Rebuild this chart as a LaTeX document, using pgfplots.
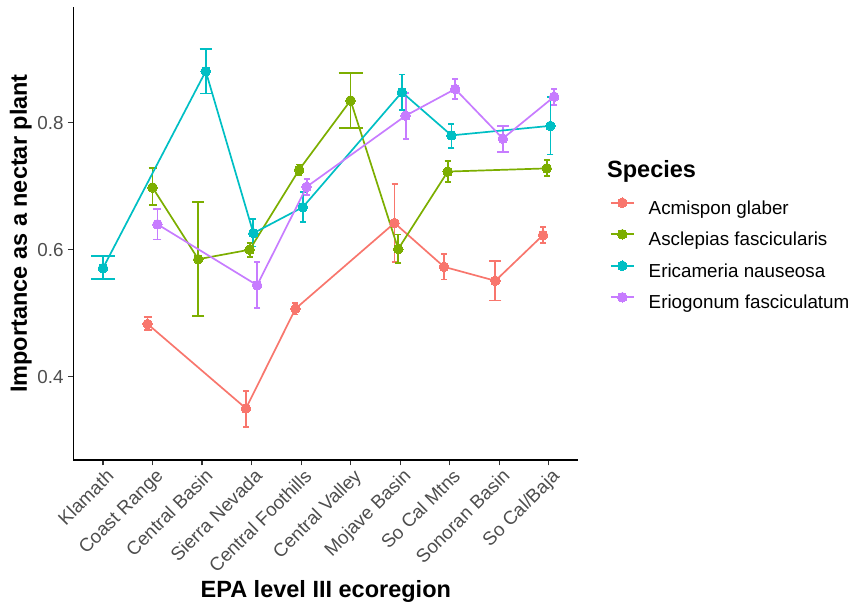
\documentclass[border=0pt]{standalone}
\usepackage{pgfplots}
\pgfplotsset{compat=1.18}
\usepackage{pgfplotstable}
\usepackage{fontspec}
\setmainfont{Liberation Sans}

\definecolor{cA}{HTML}{F8766D}
\definecolor{cB}{HTML}{7CAE00}
\definecolor{cC}{HTML}{00BFC4}
\definecolor{cD}{HTML}{C77CFF}
\definecolor{ticktext}{HTML}{4D4D4D}
\definecolor{tickline}{HTML}{333333}

% x = ecoregion index (1 = Klamath ... 10 = So Cal/Baja) plus dodge offset
% n = number of species sampled in that ecoregion (sets the cap width)
\pgfplotstableread{
x       y     lo    hi    n
1.9     0.483 0.473 0.494 3
3.8875  0.350 0.321 0.378 4
4.8875  0.507 0.498 0.516 4
6.8875  0.642 0.581 0.704 4
7.8875  0.573 0.553 0.593 4
8.925   0.551 0.520 0.582 2
9.8875  0.623 0.610 0.636 4
}\acmispon

\pgfplotstableread{
x       y     lo    hi    n
2.0     0.698 0.670 0.728 3
2.925   0.585 0.496 0.675 2
3.9625  0.600 0.588 0.611 4
4.9625  0.726 0.718 0.734 4
6.0     0.835 0.792 0.878 1
6.9625  0.601 0.579 0.624 4
7.9625  0.723 0.707 0.740 4
9.9625  0.728 0.716 0.741 4
}\asclepias

\pgfplotstableread{
x       y     lo    hi    n
1.0     0.571 0.554 0.590 1
3.075   0.881 0.846 0.916 2
4.0375  0.626 0.605 0.648 4
5.0375  0.667 0.643 0.691 4
7.0375  0.848 0.820 0.876 4
8.0375  0.780 0.760 0.798 4
10.0375 0.795 0.750 0.840 4
}\ericameria

\pgfplotstableread{
x       y     lo    hi    n
2.1     0.640 0.616 0.664 3
4.1125  0.544 0.508 0.581 4
5.1125  0.699 0.686 0.711 4
7.1125  0.811 0.774 0.847 4
8.1125  0.853 0.837 0.869 4
9.075   0.775 0.754 0.795 2
10.1125 0.841 0.828 0.853 4
}\eriogonum

% error bars of one species for the ecoregions holding #3 species; #4 = cap half-width
\newcommand{\errbars}[4]{%
  \addplot[forget plot, draw=none, mark=none,
    x filter/.expression={\thisrow{n}==#3 ? x : nan},
    error bars/.cd, y dir=both, y explicit, error mark=|,
      error bar style={draw=#2, line width=1.8bp, solid},
      error mark options={draw=#2, line width=1.8bp, mark size=#4}]
    table[x=x, y=y,
      y error plus expr=\thisrow{hi}-\thisrow{y},
      y error minus expr=\thisrow{y}-\thisrow{lo}] {#1};
}

\newcommand{\series}[2]{%
  \addplot[#2, line width=1.7bp, mark=*, mark size=4.8bp,
    mark options={draw=#2, fill=#2, line width=0pt, solid}]
    table[x=x, y=y] {#1};
}

\begin{document}
\begin{tikzpicture}[x=1bp, y=1bp]
\useasboundingbox (0,0) rectangle (851,610);
\begin{axis}[
  at={(73.3bp,150bp)}, anchor=south west,
  scale only axis, width=505bp, height=453bp,
  xmin=0.4, xmax=10.6, ymin=0.2688, ymax=0.9822,
  axis lines=left,
  axis line style={-, line width=1.1bp, black},
  tick align=outside, major tick length=5.5bp,
  every tick/.style={tickline, line width=1.1bp},
  minor tick num=0,
  xtick={1,...,10},
  xticklabels={Klamath, Coast Range, Central Basin, Sierra Nevada,
    Central Foothills, Central Valley, Mojave Basin, So Cal Mtns,
    Sonoran Basin, So Cal/Baja},
  ytick={0.4,0.6,0.8},
  yticklabels={0.4,0.6,0.8},
  ticklabel style={font=\fontsize{18.8bp}{22bp}\selectfont, text=ticktext},
  xticklabel style={rotate=45, anchor=north east, inner sep=0pt, yshift=-3bp},
  yticklabel style={anchor=east, inner sep=0pt, xshift=-4bp},
  xlabel={EPA level III ecoregion},
  ylabel={Importance as a nectar plant},
  label style={font=\bfseries\fontsize{23.5bp}{27bp}\selectfont, inner sep=0pt},
  xlabel style={at={(axis description cs:0.5,-0.3046)}, anchor=base},
  ylabel style={at={(axis description cs:-0.0917,0.5)}, anchor=base, rotate=0},
  legend style={at={(1.0628,0.5784)}, anchor=north west, draw=none, fill=none,
    inner sep=0pt, outer sep=0pt, row sep=11.2bp, column sep=14bp,
    nodes={inner sep=0pt, text height=14bp, text depth=4bp,
      font=\fontsize{18.8bp}{22bp}\selectfont}},
  legend cell align=left,
  legend image code/.code={%
    \draw[mark repeat=2, mark phase=2]
      plot coordinates {(0bp,6.5bp) (11.5bp,6.5bp) (23bp,6.5bp)};},
]
\errbars{\acmispon}{cA}{2}{6bp}
\errbars{\acmispon}{cA}{3}{4bp}
\errbars{\acmispon}{cA}{4}{3bp}
\errbars{\asclepias}{cB}{1}{12bp}
\errbars{\asclepias}{cB}{2}{6bp}
\errbars{\asclepias}{cB}{3}{4bp}
\errbars{\asclepias}{cB}{4}{3bp}
\errbars{\ericameria}{cC}{1}{12bp}
\errbars{\ericameria}{cC}{2}{6bp}
\errbars{\ericameria}{cC}{4}{3bp}
\errbars{\eriogonum}{cD}{2}{6bp}
\errbars{\eriogonum}{cD}{3}{4bp}
\errbars{\eriogonum}{cD}{4}{3bp}

\series{\acmispon}{cA}
\addlegendentry{Acmispon glaber}
\series{\asclepias}{cB}
\addlegendentry{Asclepias fascicularis}
\series{\ericameria}{cC}
\addlegendentry{Ericameria nauseosa}
\series{\eriogonum}{cD}
\addlegendentry{Eriogonum fasciculatum}
\end{axis}
\node[anchor=base west, font=\bfseries\fontsize{23.5bp}{27bp}\selectfont, inner sep=0pt]
  at (607,432.5) {Species};
\end{tikzpicture}
\end{document}
